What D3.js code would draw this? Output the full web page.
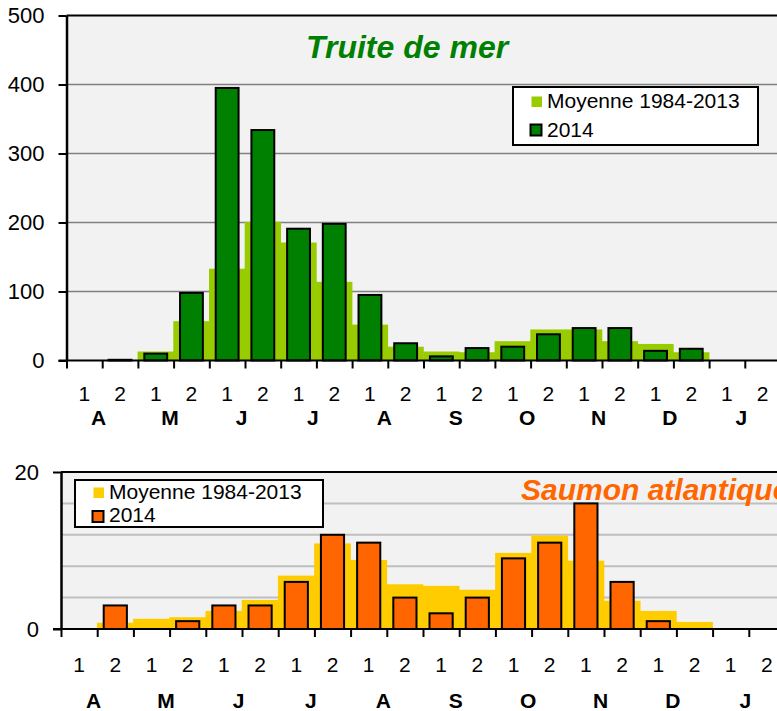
<!DOCTYPE html>
<html>
<head>
<meta charset="utf-8">
<script src="https://cdn.jsdelivr.net/npm/d3@7"></script>
<style>
body { margin: 0; background: #fff; }
text { font-family: "Liberation Sans", Arial, sans-serif; }
</style>
</head>
<body>
<script>
const svgWidth = 777
const svgHeight = 711

// half-month periods, April -> January
const categories = ["avr1","avr2","mai1","mai2","jun1","jun2","jul1","jul2","aou1","aou2",
    "sep1","sep2","oct1","oct2","nov1","nov2","dec1","dec2","jan1","jan2"]
const halfLabels = ["1","2","1","2","1","2","1","2","1","2","1","2","1","2","1","2","1","2","1","2"]
const monthLabels = ["A","M","J","J","A","S","O","N","D","J"]

const truiteMoyenne = [0, 0, 13, 57, 133, 201, 171, 114, 52, 20, 13, 12, 28, 45, 45, 28, 24, 12, 0, 0]
const truite2014 = [0, 1, 10, 98, 395, 334, 191, 198, 95, 25, 6, 18, 20, 38, 47, 47, 14, 17, 0, 0]
const truiteTicks = [0, 100, 200, 300, 400, 500]
const truiteGrid = [100, 200, 300, 400]

const saumonMoyenne = [0, 0.8, 1.3, 1.5, 2.3, 3.7, 6.8, 10.9, 8.8, 5.7, 5.5, 5.0, 9.7, 11.9, 8.7, 3.6, 2.3, 0.9, 0, 0]
const saumon2014 = [0, 3, 0, 1, 3, 3, 6, 12, 11, 4, 2, 4, 9, 11, 16, 6, 1, 0, 0, 0]
const saumonTicks = [0, 20]
const saumonGrid = [4, 8, 12, 16]

const legendLabels = ["Moyenne 1984-2013", "2014"]

const svg = d3.select("body").append("svg")
    .attr("width", svgWidth)
    .attr("height", svgHeight)

function drawPanel(cfg) {
    const g = svg.append("g")

    const x = d3.scaleBand()
        .domain(categories)
        .range([cfg.left, cfg.left + cfg.step * categories.length])
        .padding(0)

    const xi = d3.scaleLinear()
        .domain([0, categories.length])
        .range(x.range())

    const y = d3.scaleLinear()
        .domain([0, cfg.max])
        .range([cfg.bottom, cfg.top])

    const moy = categories.map((c, i) => ({ cat: c, v: cfg.moyenne[i] }))
    const cur = categories.map((c, i) => ({ cat: c, v: cfg.values[i] })).filter(d => d.v > 0)

    // plot background
    g.append("rect")
        .attr("x", cfg.left)
        .attr("y", cfg.top)
        .attr("width", svgWidth - cfg.left)
        .attr("height", cfg.bottom - cfg.top)
        .attr("fill", "#f2f2f2")

    g.selectAll(".grid")
        .data(cfg.grid)
        .enter()
        .append("line")
        .attr("x1", cfg.left)
        .attr("x2", svgWidth)
        .attr("y1", d => y(d))
        .attr("y2", d => y(d))
        .attr("stroke", cfg.gridColor)
        .attr("stroke-width", cfg.gridWidth)

    // top border
    g.append("line")
        .attr("x1", cfg.left)
        .attr("x2", svgWidth)
        .attr("y1", y(cfg.max))
        .attr("y2", y(cfg.max))
        .attr("stroke", "#000")
        .attr("stroke-width", 2)

    // mean as a stepped area (full width bars)
    g.selectAll(".moy")
        .data(moy)
        .enter()
        .append("rect")
        .attr("x", d => x(d.cat) - 0.3)
        .attr("y", d => y(d.v))
        .attr("width", x.bandwidth() + 0.6)
        .attr("height", d => cfg.bottom - y(d.v))
        .attr("fill", cfg.moyColor)

    const bw = x.bandwidth() * 0.64
    g.selectAll(".bar")
        .data(cur)
        .enter()
        .append("rect")
        .attr("x", d => x(d.cat) + (x.bandwidth() - bw) / 2)
        .attr("y", d => y(d.v))
        .attr("width", bw)
        .attr("height", d => cfg.bottom - y(d.v))
        .attr("fill", cfg.barColor)
        .attr("stroke", "#000")
        .attr("stroke-width", 2)

    // y axis
    const yAxis = d3.axisLeft(y)
        .tickValues(cfg.ticks)
        .tickSize(8)
        .tickSizeOuter(0)
        .tickPadding(14)
    const ya = g.append("g")
        .attr("transform", `translate(${cfg.left}, 0)`)
        .call(yAxis)
    ya.select(".domain").attr("stroke-width", 2.5)
    ya.selectAll(".tick line").attr("stroke-width", 2)
    ya.selectAll(".tick text")
        .attr("font-size", 22)
        .attr("fill", "#000")
        .style("font-family", "'Liberation Sans', Arial, sans-serif")

    // x axis: ticks at the period boundaries
    const xAxis = d3.axisBottom(xi)
        .tickValues(d3.range(categories.length + 1))
        .tickSize(8)
        .tickSizeOuter(0)
        .tickFormat("")
    const xa = g.append("g")
        .attr("transform", `translate(0, ${cfg.bottom})`)
        .call(xAxis)
    xa.select(".domain").attr("stroke-width", 2).attr("d", `M${cfg.left - 8},0H${svgWidth}`)
    xa.selectAll(".tick line").attr("stroke-width", 2)

    g.selectAll(".half")
        .data(halfLabels)
        .enter()
        .append("text")
        .attr("x", (d, i) => x(categories[i]) + x.bandwidth() / 2)
        .attr("y", cfg.halfY)
        .attr("text-anchor", "middle")
        .attr("font-size", 21)
        .text(d => d)

    g.selectAll(".month")
        .data(monthLabels)
        .enter()
        .append("text")
        .attr("x", (d, i) => xi(i * 2 + 1) - 3.5)
        .attr("y", cfg.monthY)
        .attr("text-anchor", "middle")
        .attr("font-size", 21)
        .attr("font-weight", "bold")
        .text(d => d)

    // title
    g.append("text")
        .attr("x", cfg.titleX)
        .attr("y", cfg.titleY)
        .attr("font-size", cfg.titleSize)
        .attr("font-weight", "bold")
        .attr("font-style", "italic")
        .attr("fill", cfg.titleColor)
        .text(cfg.title)

    // legend
    const L = cfg.legend
    const lg = g.append("g")
    lg.append("rect")
        .attr("x", L.x)
        .attr("y", L.y)
        .attr("width", L.w)
        .attr("height", L.h)
        .attr("fill", "#fff")
        .attr("stroke", "#000")
        .attr("stroke-width", 2)
    lg.append("rect")
        .attr("x", L.x + 18.5)
        .attr("y", L.sq1)
        .attr("width", 10.5)
        .attr("height", 10.5)
        .attr("fill", cfg.moyColor)
    lg.append("rect")
        .attr("x", L.x + 17.5)
        .attr("y", L.sq2)
        .attr("width", 11)
        .attr("height", 11)
        .attr("fill", cfg.barColor)
        .attr("stroke", "#000")
        .attr("stroke-width", 2)
    lg.selectAll(".ltext")
        .data(legendLabels)
        .enter()
        .append("text")
        .attr("x", L.x + 34)
        .attr("y", (d, i) => L.base + i * L.gap)
        .attr("font-size", 21)
        .text(d => d)
}

drawPanel({
    left: 66.5, step: 35.7, top: 15.5, bottom: 360.5, max: 500,
    moyenne: truiteMoyenne, values: truite2014,
    ticks: truiteTicks, grid: truiteGrid,
    gridColor: "#808080", gridWidth: 1.6,
    moyColor: "#99cc00", barColor: "#008000",
    halfY: 401, monthY: 425,
    title: "Truite de mer", titleX: 306, titleY: 58, titleSize: 32, titleColor: "#008000",
    legend: { x: 513, y: 87, w: 245, h: 58, sq1: 96.5, sq2: 124.5, base: 107.5, gap: 29.5 }
})

drawPanel({
    left: 61, step: 36.2, top: 472, bottom: 629, max: 20,
    moyenne: saumonMoyenne, values: saumon2014,
    ticks: saumonTicks, grid: saumonGrid,
    gridColor: "#bfbfbf", gridWidth: 2,
    moyColor: "#ffcc00", barColor: "#ff6600",
    halfY: 672, monthY: 708,
    title: "Saumon atlantique", titleX: 521, titleY: 500, titleSize: 30, titleColor: "#ff6600",
    legend: { x: 75, y: 480, w: 248, h: 47, sq1: 487.5, sq2: 511, base: 498.5, gap: 23.5 }
})
</script>
</body>
</html>
